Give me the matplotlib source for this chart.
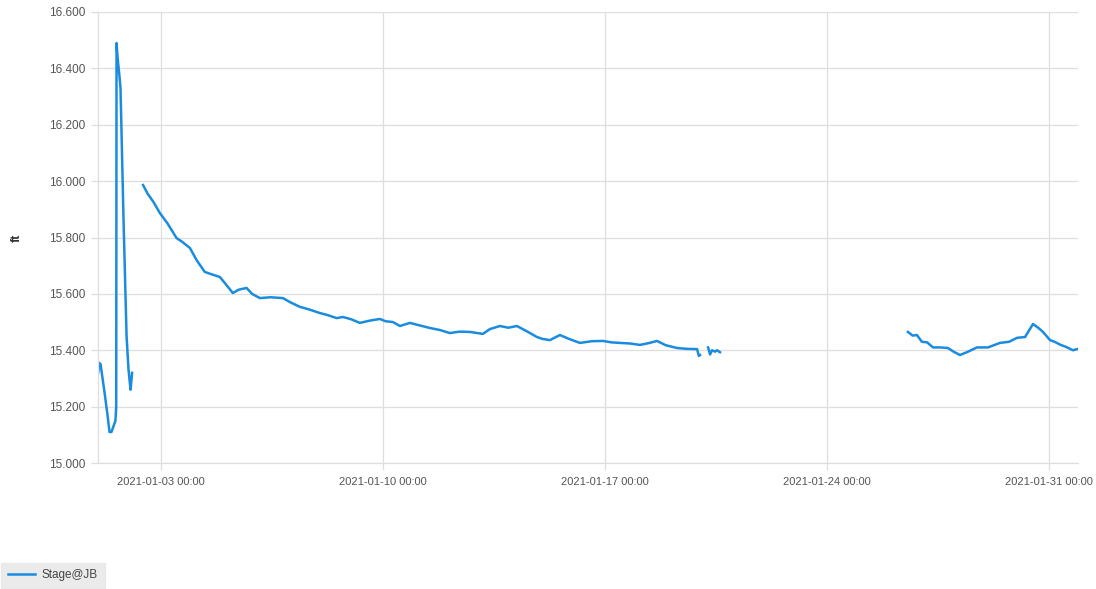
import numpy as np
import pandas as pd
import matplotlib
matplotlib.use("Agg")
import matplotlib.pyplot as plt
import matplotlib.dates as mdates

# Stage@JB readings (ft), gaps marked with None
times = [
    # Jan 1-2 flood spike
    "2021-01-01 00:30", "2021-01-01 01:30", "2021-01-01 02:20", "2021-01-01 05:20",
    "2021-01-01 07:35", "2021-01-01 09:05", "2021-01-01 10:35", "2021-01-01 12:05",
    "2021-01-01 13:35", "2021-01-01 14:10", "2021-01-01 14:25", "2021-01-01 15:10",
    "2021-01-01 16:40", "2021-01-01 17:25", "2021-01-01 19:40", "2021-01-01 22:00",
    "2021-01-01 23:30", "2021-01-02 01:00", "2021-01-02 01:50", "2021-01-02 02:10",
    None,
    # recession
    "2021-01-02 10:30", "2021-01-02 14:00", "2021-01-02 18:30", "2021-01-02 23:10",
    "2021-01-03 05:00", "2021-01-03 11:50", "2021-01-03 16:00", "2021-01-03 21:55",
    "2021-01-04 03:00", "2021-01-04 09:10", "2021-01-04 14:00", "2021-01-04 20:35",
    "2021-01-05 01:00", "2021-01-05 06:25", "2021-01-05 11:00", "2021-01-05 16:50",
    "2021-01-05 21:00", "2021-01-06 02:55", "2021-01-06 11:00", "2021-01-06 20:20",
    "2021-01-07 02:00", "2021-01-07 09:10", "2021-01-07 16:00", "2021-01-08 00:20",
    "2021-01-08 06:00", "2021-01-08 13:00", "2021-01-08 17:40", "2021-01-09 00:00",
    "2021-01-09 06:35", "2021-01-09 14:00", "2021-01-09 21:45", "2021-01-10 02:00",
    "2021-01-10 07:35", "2021-01-10 12:55", "2021-01-10 20:25", "2021-01-11 04:00",
    "2021-01-11 11:35", "2021-01-11 19:00", "2021-01-12 02:40", "2021-01-12 10:00",
    "2021-01-12 17:55", "2021-01-13 03:40", "2021-01-13 09:00", "2021-01-13 16:35",
    "2021-01-13 23:00", "2021-01-14 05:30", "2021-01-14 13:50", "2021-01-14 20:35",
    "2021-01-15 01:00", "2021-01-15 06:25", "2021-01-15 14:00", "2021-01-15 21:00",
    "2021-01-16 05:10", "2021-01-16 14:00", "2021-01-16 22:35", "2021-01-17 05:00",
    "2021-01-17 11:25", "2021-01-17 19:00", "2021-01-18 02:35", "2021-01-18 09:00",
    "2021-01-18 15:30", "2021-01-18 22:00", "2021-01-19 06:35", "2021-01-19 14:00",
    "2021-01-19 21:50", "2021-01-19 23:10", "2021-01-20 00:05",
    None,
    "2021-01-20 06:10", "2021-01-20 07:40", "2021-01-20 09:10", "2021-01-20 11:30",
    "2021-01-20 13:00", "2021-01-20 15:10",
    None,
    # after the data gap
    "2021-01-26 13:25", "2021-01-26 17:00", "2021-01-26 20:15", "2021-01-27 00:00",
    "2021-01-27 04:00", "2021-01-27 08:25", "2021-01-27 14:00", "2021-01-27 19:40",
    "2021-01-28 00:00", "2021-01-28 04:50", "2021-01-28 11:00", "2021-01-28 17:40",
    "2021-01-29 02:00", "2021-01-29 11:05", "2021-01-29 18:00", "2021-01-30 00:00",
    "2021-01-30 06:05", "2021-01-30 12:05", "2021-01-30 16:00", "2021-01-30 19:40",
    "2021-01-31 01:00", "2021-01-31 04:30", "2021-01-31 08:35", "2021-01-31 13:00",
    "2021-01-31 18:25", "2021-01-31 22:10",
]
stage = [
    15.32, 15.355, 15.35, 15.25,
    15.17, 15.11, 15.11, 15.13,
    15.15, 15.20, 16.49, 16.44,
    16.37, 16.33, 15.87, 15.45,
    15.33, 15.26, 15.30, 15.32,
    None,
    15.986, 15.955, 15.925, 15.887,
    15.850, 15.798, 15.785, 15.763,
    15.720, 15.678, 15.670, 15.660,
    15.635, 15.603, 15.615, 15.621,
    15.600, 15.585, 15.588, 15.585,
    15.570, 15.554, 15.545, 15.532,
    15.525, 15.514, 15.518, 15.510,
    15.497, 15.505, 15.511, 15.503,
    15.500, 15.486, 15.497, 15.488,
    15.479, 15.472, 15.461, 15.466,
    15.465, 15.458, 15.475, 15.486,
    15.480, 15.486, 15.465, 15.447,
    15.440, 15.436, 15.454, 15.440,
    15.426, 15.432, 15.433, 15.428,
    15.426, 15.424, 15.419, 15.425,
    15.433, 15.418, 15.408, 15.405,
    15.404, 15.38, 15.383,
    None,
    15.41, 15.385, 15.40, 15.395,
    15.40, 15.393,
    None,
    15.465, 15.452, 15.454, 15.43,
    15.428, 15.41, 15.410, 15.408,
    15.395, 15.383, 15.395, 15.41,
    15.410, 15.426, 15.430, 15.444,
    15.447, 15.493, 15.480, 15.465,
    15.436, 15.430, 15.42, 15.412,
    15.40, 15.405,
]

y_ticks = [15.0, 15.2, 15.4, 15.6, 15.8, 16.0, 16.2, 16.4, 16.6]
x_ticks = ["2021-01-03", "2021-01-10", "2021-01-17", "2021-01-24", "2021-01-31"]

# fill the gap rows with a time next to the previous one, value stays NaN
t = pd.to_datetime(pd.Series(times))
v = pd.Series(stage, dtype=float)
for i in range(len(t)):
    if pd.isna(t[i]):
        t[i] = t[i - 1] + pd.Timedelta(minutes=1)

plt.rcParams['font.family'] = ['Liberation Sans', 'DejaVu Sans']

fig = plt.figure(figsize=(10.96, 5.89), dpi=100)
ax = fig.add_axes([97.5 / 1096, 1 - 463 / 589, (1078 - 97.5) / 1096, (463 - 12) / 589])

line_color = '#1a8ce0'
ax.plot(t, v, color=line_color, lw=1.8, label='Stage@JB')

ax.set_xlim(pd.Timestamp("2021-01-01 00:00"), pd.Timestamp("2021-01-31 22:10"))
ax.set_ylim(15.0, 16.6)
ax.set_yticks(y_ticks)
ax.set_yticklabels([f"{y:.3f}" for y in y_ticks])
ax.set_xticks(pd.to_datetime(x_ticks))
ax.xaxis.set_major_formatter(mdates.DateFormatter("%Y-%m-%d %H:%M"))

grid_color = '#dedede'
ax.grid(True, color=grid_color, lw=0.9)
ax.set_axisbelow(True)
for s in ['top', 'right']:
    ax.spines[s].set_visible(False)
for s in ['left', 'bottom']:
    ax.spines[s].set_color(grid_color)
    ax.spines[s].set_linewidth(0.9)

ax.tick_params(axis='both', colors=grid_color, length=5, width=0.9, labelcolor='#555555')
ax.tick_params(axis='y', labelsize=8.5, pad=4)
ax.tick_params(axis='x', labelsize=8, pad=5)

ax.set_ylabel("ft", fontsize=9, color='#333333', fontweight='bold')
ax.yaxis.set_label_coords(-0.076, 0.5)

leg = fig.legend(loc='lower left', bbox_to_anchor=(0, 0), borderaxespad=0.1,
                 fontsize=8.5, frameon=True, fancybox=False, handlelength=2.3,
                 borderpad=0.55, handletextpad=0.6)
leg.get_frame().set_facecolor('#e6e6e6')
leg.get_frame().set_edgecolor('#e6e6e6')
for txt in leg.get_texts():
    txt.set_color('#444444')

fig.savefig("out.png", dpi=100)
